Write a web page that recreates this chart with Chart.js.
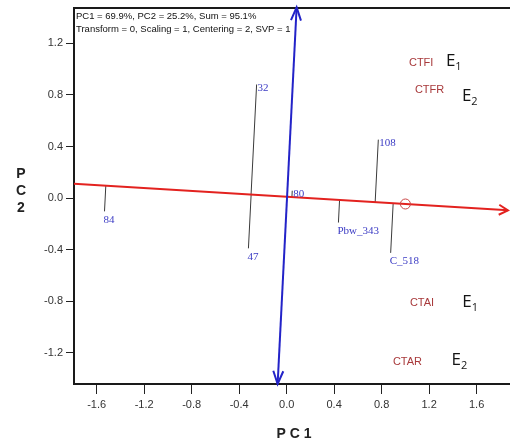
<!DOCTYPE html>
<html>
<head>
<meta charset="utf-8">
<script src="https://cdn.jsdelivr.net/npm/chart.js@4.4.1/dist/chart.umd.min.js"></script>
<style>
  html, body { margin: 0; padding: 0; background: #fff; }
  #wrap { width: 510px; height: 444px; }
</style>
</head>
<body>
<div id="wrap"><canvas id="biplot" width="510" height="444"></canvas></div>
<script>
// variable scores on PC1 / PC2
const varNames = ['32', '47', '84', '80', '108', 'Pbw_343', 'C_518'];
const varPC1 = [-0.253, -0.322, -1.534, 0.047, 0.772, 0.436, 0.876];
const varPC2 = [0.881, -0.390, -0.103, 0.057, 0.453, -0.190, -0.425];

// axis vectors: [start, tip]
const redAxisX = [-1.80, 1.864];
const redAxisY = [0.111, -0.095];
const blueAxisX = [-0.076, 0.084];
const blueAxisY = [-1.442, 1.479];

// marker (circle) on red axis
const markerX = [1.0];
const markerY = [-0.046];

const xTicks = [-1.6, -1.2, -0.8, -0.4, 0.0, 0.4, 0.8, 1.2, 1.6];
const yTicks = [-1.2, -0.8, -0.4, 0.0, 0.4, 0.8, 1.2];

const headerLines = [
  'PC1 = 69.9%, PC2 = 25.2%, Sum = 95.1%',
  'Transform = 0, Scaling = 1, Centering = 2, SVP = 1'
];
const xTitle = 'P C 1';
const yTitle = ['P', 'C', '2'];

// trait labels and E1/E2 tags
const traitNames = ['CTFI', 'CTFR', 'CTAI', 'CTAR'];
const traitX = [1.030, 1.080, 1.038, 0.895];
const traitY = [1.049, 0.836, -0.813, -1.271];
const envSubs = ['1', '2', '1', '2'];
const envX = [1.341, 1.476, 1.479, 1.389];
const envY = [1.027, 0.756, -0.842, -1.295];

const RED = '#e3221f';
const BLUE = '#2323c8';

// where a point drops onto the red axis, moving parallel to the blue one
function footOnRed(px, py) {
  const ax = redAxisX[0], ay = redAxisY[0];
  const ex = redAxisX[1] - ax, ey = redAxisY[1] - ay;
  const dx = blueAxisX[1] - blueAxisX[0], dy = blueAxisY[1] - blueAxisY[0];
  const det = ex * dy - dx * ey;
  const t = (ex * (ay - py) - ey * (ax - px)) / det;
  return { x: px + t * dx, y: py + t * dy };
}

function redYAt(px) {
  const s = (px - redAxisX[0]) / (redAxisX[1] - redAxisX[0]);
  return redAxisY[0] + s * (redAxisY[1] - redAxisY[0]);
}

const projSets = varNames.map((n, i) => ({
  label: n,
  data: [{ x: varPC1[i], y: varPC2[i] }, footOnRed(varPC1[i], varPC2[i])],
  showLine: true,
  borderColor: '#3a3a3a',
  borderWidth: 1,
  pointRadius: 0
}));

function arrowHead(ctx, x0, y0, x1, y1, len, half) {
  const ang = Math.atan2(y1 - y0, x1 - x0);
  const bx = x1 - len * Math.cos(ang), by = y1 - len * Math.sin(ang);
  const nx = -Math.sin(ang) * half, ny = Math.cos(ang) * half;
  ctx.beginPath();
  ctx.moveTo(bx + nx, by + ny);
  ctx.lineTo(x1, y1);
  ctx.lineTo(bx - nx, by - ny);
  ctx.stroke();
}

const overlay = {
  id: 'overlay',
  afterDatasetsDraw(chart) {
    const { ctx, chartArea: a, scales: { x, y } } = chart;
    ctx.save();

    // top frame line
    ctx.strokeStyle = '#1a1a1a';
    ctx.lineWidth = 2;
    ctx.beginPath();
    ctx.moveTo(a.left - 1, a.top);
    ctx.lineTo(a.right, a.top);
    ctx.stroke();

    // arrow heads
    ctx.lineWidth = 2;
    ctx.strokeStyle = RED;
    arrowHead(ctx, x.getPixelForValue(redAxisX[0]), y.getPixelForValue(redAxisY[0]),
      x.getPixelForValue(redAxisX[1]), y.getPixelForValue(redAxisY[1]), 9, 5);
    ctx.strokeStyle = BLUE;
    const bx0 = x.getPixelForValue(blueAxisX[0]), by0 = y.getPixelForValue(blueAxisY[0]);
    const bx1 = x.getPixelForValue(blueAxisX[1]), by1 = y.getPixelForValue(blueAxisY[1]);
    arrowHead(ctx, bx0, by0, bx1, by1, 13, 5);
    arrowHead(ctx, bx1, by1, bx0, by0, 13, 5);

    // variable labels
    ctx.font = '11px "Liberation Serif", "Times New Roman", serif';
    ctx.fillStyle = '#3b3bc4';
    ctx.textAlign = 'left';
    ctx.textBaseline = 'top';
    varNames.forEach((n, i) => {
      const px = x.getPixelForValue(varPC1[i]);
      const py = y.getPixelForValue(varPC2[i]);
      const above = varPC2[i] > redYAt(varPC1[i]);
      ctx.fillText(n, above ? px + 1 : px - 1, above ? py - 2 : py + 3);
    });

    // header text
    ctx.font = '9.5px "Liberation Sans", Arial, sans-serif';
    ctx.fillStyle = '#111';
    ctx.textBaseline = 'middle';
    ctx.fillText(headerLines[0], a.left + 2, a.top + 8);
    ctx.fillText(headerLines[1], a.left + 2, a.top + 21);

    // trait labels
    ctx.font = '11px "Liberation Sans", Arial, sans-serif';
    ctx.fillStyle = '#a8393b';
    traitNames.forEach((n, i) => {
      ctx.fillText(n, x.getPixelForValue(traitX[i]), y.getPixelForValue(traitY[i]));
    });

    // E tags with subscripts
    ctx.fillStyle = '#141414';
    ctx.textBaseline = 'alphabetic';
    envSubs.forEach((s, i) => {
      const ex = x.getPixelForValue(envX[i]);
      const ey = y.getPixelForValue(envY[i]);
      ctx.font = '17px "Open Sans", "Noto Sans", sans-serif';
      ctx.fillText('E', ex, ey);
      const w = ctx.measureText('E').width;
      ctx.font = '11px "Open Sans", "Noto Sans", sans-serif';
      ctx.fillText(s, ex + w, ey + 4);
    });

    // axis titles
    ctx.font = 'bold 14px "Liberation Sans", Arial, sans-serif';
    ctx.fillStyle = '#222';
    ctx.textAlign = 'center';
    ctx.textBaseline = 'middle';
    ctx.fillText(xTitle, 294, 434);
    yTitle.forEach((c, i) => ctx.fillText(c, 21, 174 + i * 17));

    ctx.restore();
  }
};

const tickFont = { family: '"Liberation Sans", Arial, sans-serif', size: 11 };

new Chart(document.getElementById('biplot'), {
  type: 'scatter',
  data: {
    datasets: [
      {
        label: 'marker',
        data: markerX.map((v, i) => ({ x: v, y: markerY[i] })),
        pointRadius: 5,
        pointHoverRadius: 5,
        pointStyle: 'circle',
        borderColor: '#c94545',
        backgroundColor: 'rgba(0,0,0,0)',
        borderWidth: 1
      },
      {
        label: 'blue',
        data: blueAxisX.map((v, i) => ({ x: v, y: blueAxisY[i] })),
        showLine: true,
        borderColor: BLUE,
        borderWidth: 2,
        pointRadius: 0
      },
      {
        label: 'red',
        data: redAxisX.map((v, i) => ({ x: v, y: redAxisY[i] })),
        showLine: true,
        borderColor: RED,
        borderWidth: 2,
        pointRadius: 0
      },
      ...projSets
    ]
  },
  options: {
    responsive: false,
    animation: false,
    layout: { autoPadding: false, padding: { top: 8, right: 0, left: 0, bottom: 0 } },
    plugins: {
      legend: { display: false },
      tooltip: { enabled: false }
    },
    scales: {
      x: {
        type: 'linear',
        min: -1.791,
        max: 1.881,
        afterFit: s => { s.height = 60; s.paddingLeft = 0; s.paddingRight = 0; },
        afterBuildTicks: s => { s.ticks = xTicks.map(v => ({ value: v })); },
        grid: { drawOnChartArea: false, tickLength: 10, color: '#222', lineWidth: 1 },
        border: { display: true, color: '#1a1a1a', width: 2 },
        ticks: {
          font: tickFont,
          color: '#333',
          padding: 4,
          maxRotation: 0,
          callback: v => Number(v).toFixed(1)
        }
      },
      y: {
        type: 'linear',
        min: -1.442,
        max: 1.474,
        afterFit: s => { s.width = 74; s.paddingTop = 0; s.paddingBottom = 0; },
        afterBuildTicks: s => { s.ticks = yTicks.map(v => ({ value: v })); },
        grid: { drawOnChartArea: false, tickLength: 8, color: '#222', lineWidth: 1 },
        border: { display: true, color: '#1a1a1a', width: 2 },
        ticks: {
          font: tickFont,
          color: '#333',
          padding: 3,
          callback: v => Number(v).toFixed(1)
        }
      }
    }
  },
  plugins: [overlay]
});
</script>
</body>
</html>
